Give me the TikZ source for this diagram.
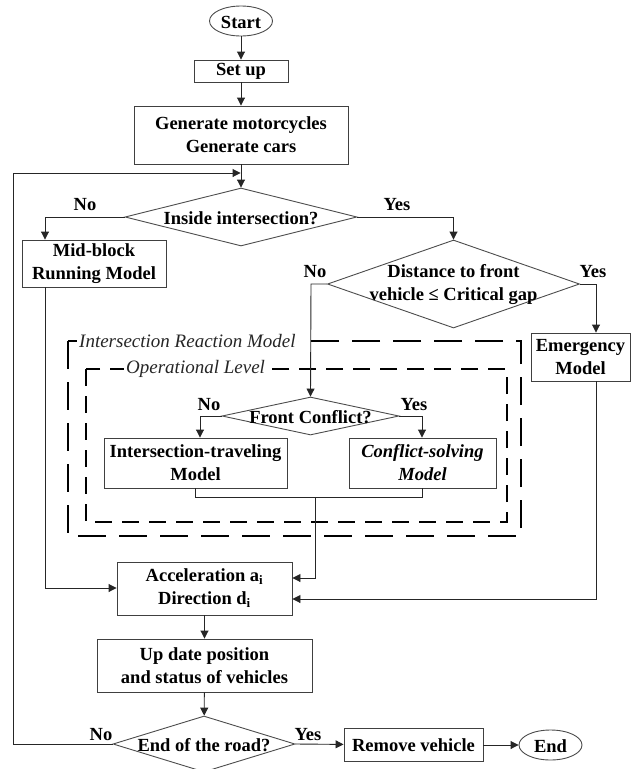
\documentclass[tikz,border=0pt]{standalone}
\usepackage{fontspec}
\setmainfont{Liberation Serif}
\usetikzlibrary{shapes.geometric,arrows.meta}
\newcommand{\dtxt}[1]{\makebox[0pt]{\smash{\raisebox{-7.5pt}{#1}}}}
\newcommand{\dtxtii}[2]{\makebox[0pt]{\smash{\raisebox{-5pt}{\begin{tabular}{@{}c@{}}#1\\#2\end{tabular}}}}}
\tikzset{
  every node/.style={font=\fontsize{18.5}{23}\selectfont\bfseries, text=black},
  boxnode/.style={draw=black!75, line width=0.9pt, rectangle, inner sep=0pt, align=center},
  decision/.style={draw=black!70, line width=0.9pt, diamond, inner sep=0pt},
  term/.style={draw=black!70, line width=0.9pt, ellipse, inner sep=0pt},
  conn/.style={draw=black!85, line width=0.9pt},
  arr/.style={conn, -{Triangle[length=8pt,width=8pt]}},
  lbl/.style={font=\fontsize{18.5}{23}\selectfont\bfseries, inner sep=0pt},
  grp/.style={draw=black, line width=1.6pt},
  grplbl/.style={font=\fontsize{19}{23}\selectfont\itshape, text=black!85, fill=white, inner xsep=2pt, inner ysep=1pt, anchor=west},
}
\begin{document}
\begin{tikzpicture}[x=1pt,y=-1pt]
\useasboundingbox (0,0) rectangle (635,769);

% group boxes
\draw[grp, dash pattern=on 28pt off 13pt] (68,341) rectangle (521,536);
\node[grplbl] (irm) at (77,341) {Intersection Reaction Model};
\draw[grp, line width=1.4pt, dash pattern=on 17pt off 10pt] (86,369) rectangle (507,522);
\node[grplbl] (opl) at (124,369) {Operational Level};

% nodes
\node[term, minimum width=63pt, minimum height=30pt] (start) at (241,21) {\dtxt{Start}};
\node[boxnode, minimum width=94pt, minimum height=22pt] (setup) at (241,71) {Set up};
\node[boxnode, minimum width=214pt, minimum height=58pt] (gen) at (241,135) {Generate motorcycles\\Generate cars};
\node[decision, minimum width=232pt, minimum height=58pt] (inside) at (241,217) {\dtxt{Inside intersection?}};
\node[boxnode, minimum width=144pt, minimum height=47pt] (mid) at (94,263.5) {Mid-block\\Running Model};
\node[decision, minimum width=252pt, minimum height=88pt] (dist) at (453.5,284) {\dtxtii{Distance to front}{vehicle ≤ Critical gap}};
\node[boxnode, minimum width=99pt, minimum height=48pt] (emer) at (580.5,357) {Emergency\\Model};
\node[decision, minimum width=177pt, minimum height=38pt] (front) at (310.5,416) {\dtxt{Front Conflict?}};
\node[boxnode, minimum width=183pt, minimum height=50pt] (itm) at (195.5,463) {Intersection-traveling\\Model};
\node[boxnode, minimum width=147pt, minimum height=50pt] (csm) at (422.5,463) {\bfseries\itshape Conflict-solving\\\bfseries\itshape Model};
\node[boxnode, minimum width=175pt, minimum height=53pt] (acc) at (204.5,588.5) {Acceleration a\textsubscript{i}\\Direction d\textsubscript{i}};
\node[boxnode, minimum width=215pt, minimum height=53pt] (upd) at (204.5,665.5) {Up date position\\and status of vehicles};
\node[decision, minimum width=182pt, minimum height=56pt] (eor) at (204,744) {\dtxt{End of the road?}};
\node[boxnode, minimum width=139pt, minimum height=33pt] (rem) at (413.5,745) {Remove vehicle};
\node[term, minimum width=63pt, minimum height=30pt] (end) at (550.5,745) {\dtxt{End}};

% helper coordinates
\coordinate (loopTL) at (13,173);
\coordinate (loopBL) at (13,744);
\coordinate (merge) at (241,173);
\coordinate (noA) at (45,217);
\coordinate (yesA) at (453.5,217);
\coordinate (noB) at (311,284);
\coordinate (yesB) at (596,284);
\coordinate (noC) at (200,416);
\coordinate (yesC) at (422,416);
\coordinate (jL) at (195,497);
\coordinate (jR) at (422,497);
\coordinate (jM) at (315,497);
\coordinate (accIn1) at (315,578);
\coordinate (accIn2) at (596,599);
\coordinate (midDown) at (45,588);

% connectors
\draw[arr] (start) -- (setup);
\draw[arr] (setup) -- (gen);
\draw[arr] (gen) -- (inside);
\draw[arr] (loopBL) -- (loopTL) -- ([xshift=-0.45pt]merge);
\draw[conn] (eor.west) -- (loopBL);

\draw[arr] (inside.west) -- (noA) -- (mid.north -| noA);
\draw[arr] (inside.east) -- (yesA) -- (dist.north);
\draw[arr] (dist.west) -- (noB) -- (front.north);
\draw[arr] (dist.east) -- (yesB) -- (emer.north -| yesB);
\draw[arr] (front.west) -- (noC) -- (itm.north -| noC);
\draw[arr] (front.east) -- (yesC) -- (csm.north -| yesC);

\draw[conn] (itm.south -| jL) -- (jL) -- (jR) -- (csm.south -| jR);
\draw[arr] (jM) -- (accIn1) -- (accIn1 -| acc.east);
\draw[arr] (emer.south -| accIn2) -- (accIn2) -- (accIn2 -| acc.east);
\draw[arr] (mid.south -| midDown) -- (midDown) -- (midDown -| acc.west);

\draw[arr] (acc) -- (upd);
\draw[arr] (upd) -- (eor);
\draw[arr] (eor.east) -- (rem);
\draw[arr] (rem) -- (end);

% labels
\node[lbl] (l1) at (85,205) {No};
\node[lbl] (l2) at (397,205) {Yes};
\node[lbl] (l3) at (315,272) {No};
\node[lbl] (l4) at (593,272) {Yes};
\node[lbl] (l5) at (209,405) {No};
\node[lbl] (l6) at (414,405) {Yes};
\node[lbl] (l7) at (101,735) {No};
\node[lbl] (l8) at (308,735) {Yes};
\end{tikzpicture}
\end{document}
